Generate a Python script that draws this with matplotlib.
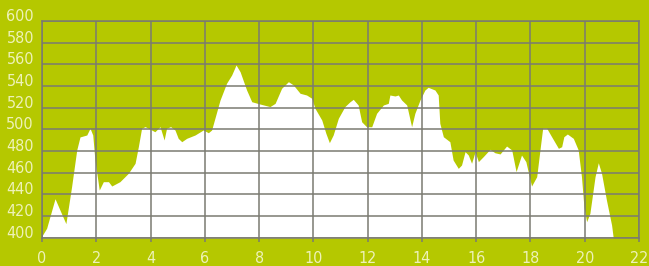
import matplotlib
matplotlib.use("Agg")
import matplotlib.pyplot as plt
from matplotlib import font_manager
import numpy as np

# elevation profile (distance in km, elevation in m)
dist = [0.0, 0.02, 0.17, 0.48, 0.66, 0.88, 1.09, 1.28, 1.40, 1.65, 1.77, 1.87, 1.95,
        2.11, 2.26, 2.45, 2.57, 2.87, 3.18, 3.43, 3.55, 3.67, 3.80, 4.04, 4.16, 4.35,
        4.50, 4.59, 4.74, 4.90, 5.02, 5.15, 5.33, 5.64, 5.94, 6.13, 6.25, 6.56, 6.80,
        6.99, 7.15, 7.30, 7.54, 7.73, 8.03, 8.40, 8.59, 8.83, 9.08, 9.26, 9.51, 9.75,
        9.94, 10.06, 10.31, 10.46, 10.59, 10.73, 10.92, 11.16, 11.35, 11.47, 11.65,
        11.78, 11.96, 12.15, 12.33, 12.58, 12.76, 12.82, 13.01, 13.13, 13.25, 13.44,
        13.62, 13.74, 13.93, 14.11, 14.23, 14.48, 14.60, 14.66, 14.79, 15.03, 15.15,
        15.34, 15.46, 15.59, 15.71, 15.83, 15.96, 16.08, 16.26, 16.51, 16.69, 16.88,
        17.12, 17.31, 17.47, 17.67, 17.83, 18.04, 18.23, 18.35, 18.45, 18.60, 18.78,
        19.03, 19.15, 19.23, 19.36, 19.58, 19.76, 19.88, 19.97, 20.07, 20.19, 20.38,
        20.50, 20.62, 20.80, 20.99, 21.05]
elev = [401, 402.5, 408.7, 436, 425.6, 413, 447, 481, 493, 494.8, 501, 494.8, 471.7,
        444, 451.7, 451.7, 447.7, 451.7, 459.4, 468.7, 484, 501, 502.5, 499.4, 497.8, 502.5,
        490.2, 501, 502.5, 499.4, 491.7, 488.6, 491.7, 494.8, 499.4, 496.9, 499.4, 527, 542.5,
        550.2, 559.4, 553.2, 536.3, 525.5, 523.4, 521, 524, 537.9, 544, 541, 533.3, 531.7,
        528.7, 519.4, 508.6, 496.4, 487.7, 494.8, 510.2, 521, 525.5, 527.7, 522.5,
        507, 502.4, 502.4, 514.8, 522.5, 524, 531.7, 530.8, 531.7, 527.1, 522.5,
        502.4, 514.8, 527.1, 536.3, 538.8, 536.3, 531.7, 505.6, 493.2, 488.6, 471.7,
        464, 467.1, 479.4, 476.3, 468.7, 479.4, 470.2, 474.8, 481.6, 478.4, 477.3,
        484.6, 481, 461, 476.3, 470.2, 447.7, 456.3, 481, 501, 501, 493.2,
        482.5, 484, 493.2, 495.7, 491.7, 481, 456.3, 428.6, 414.8, 422.5, 456.3,
        469.2, 459.4, 434.8, 411.7, 400]

x_ticks = np.arange(0, 23, 2)
y_ticks = np.arange(400, 601, 20)

bg = "#b5c800"
grid_col = "#7a7a72"
text_col = "#eef2b8"

fig = plt.figure(figsize=(6.49, 2.66), dpi=100, facecolor=bg)
ax = fig.add_axes([42 / 649, 28.3 / 266, 597 / 649, 216.7 / 266])
ax.set_facecolor(bg)

ax.fill_between(dist, 400, elev, color="white", linewidth=0, zorder=1)

ax.set_xlim(0, 22)
ax.set_ylim(400, 600)
ax.set_xticks(x_ticks)
ax.set_yticks(y_ticks)
ax.grid(True, color=grid_col, linewidth=1.1)
ax.set_axisbelow(False)
for s in ax.spines.values():
    s.set_color(grid_col)
    s.set_linewidth(1.1)
    s.set_zorder(3)

fp = font_manager.FontProperties(family="DejaVu Sans", stretch="condensed",
                                 weight="light", size=11.5)
ax.tick_params(axis="x", length=3, width=1.1, color=grid_col, pad=6.5,
               labelcolor=text_col)
ax.tick_params(axis="y", length=0, pad=5.8, labelcolor=text_col)
for lab in ax.get_xticklabels() + ax.get_yticklabels():
    lab.set_fontproperties(fp)
for lab in ax.get_yticklabels():
    lab.set_verticalalignment("baseline")

fig.savefig("out.png", dpi=100, facecolor=bg)
